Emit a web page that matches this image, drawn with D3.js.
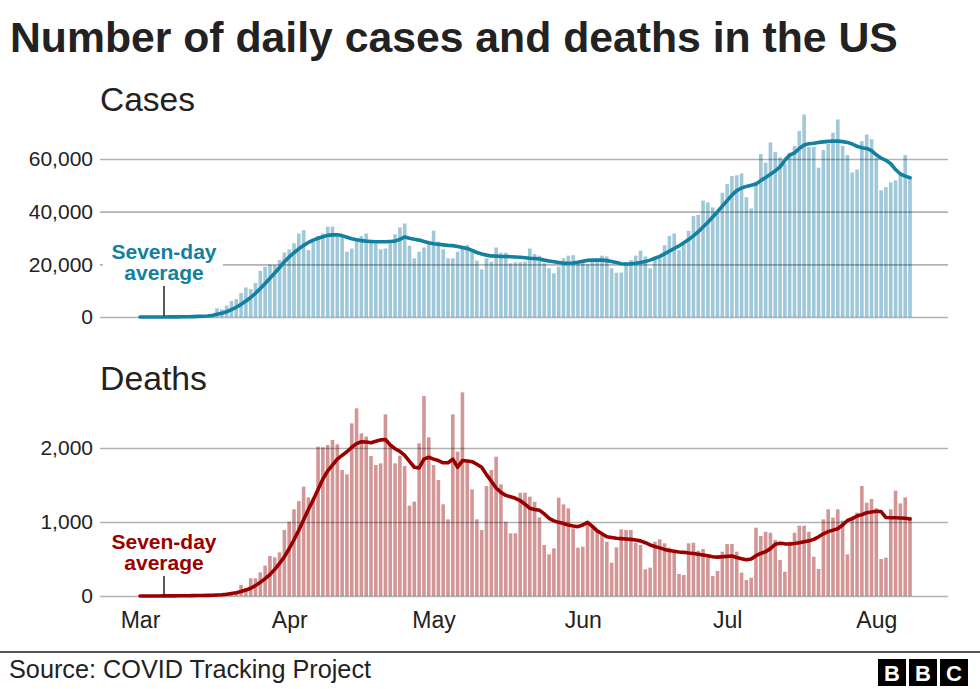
<!DOCTYPE html>
<html>
<head>
<meta charset="utf-8">
<script src="https://cdn.jsdelivr.net/npm/d3@7"></script>
<style>
  html, body { margin: 0; padding: 0; background: #fff; }
  svg { display: block; }
  text { font-family: "Liberation Sans", Arial, Helvetica, sans-serif; }
</style>
</head>
<body>
<svg id="chart" width="980" height="689"></svg>
<script>
// ---------------- DATA ----------------
const startDate = "2020-03-01";           // first day shown (Mar 1)
const monthTicks = ["Mar", "Apr", "May", "Jun", "Jul", "Aug"];
const caseTicks = [0, 20000, 40000, 60000];
const deathTicks = [0, 1000, 2000];

// Daily new cases, Mar 1 – Aug 8
const dailyCases = [
  2, 7, 15, 25, 40, 60, 80, 110, 140, 180,
  250, 350, 450, 600, 750, 1100, 3300, 2900, 4300, 6100,
  6800, 9100, 11200, 10600, 12900, 17500, 19100, 19900, 19700, 21600,
  24500, 25700, 28000, 31700, 33000, 25400, 28600, 30700, 31700, 34300,
  34300, 30500, 30700, 24800, 26000, 29900, 30700, 31700, 28600, 28000,
  25700, 26000, 28000, 31400, 34000, 35500, 27100, 22300, 24800, 26400,
  28000, 32800, 28600, 25700, 22300, 22300, 24800, 26400, 27300, 25700,
  21400, 18100, 22300, 21000, 26400, 24400, 24400, 20400, 20800, 20800,
  21000, 26000, 23900, 23300, 20400, 18500, 16600, 19100, 22300, 23300,
  23500, 21000, 21000, 20000, 21000, 21600, 23300, 23000, 18500, 16800,
  16900, 20800, 21600, 23300, 25200, 23000, 18500, 22900, 23500, 27300,
  30800, 31700, 25400, 28000, 32700, 38300, 38800, 44200, 43500, 41600,
  40000, 47200, 50500, 53500, 53800, 54500, 45500, 41200, 51400, 61900,
  58600, 66300, 62700, 60600, 58300, 62400, 65000, 70600, 76900, 64600,
  64600, 56700, 63400, 65700, 70000, 75000, 65000, 61500, 54900, 56000,
  66800, 69300, 67500, 60500, 48100, 49300, 51100, 51900, 53900, 61500,
  53300
];

// Seven-day average of cases
const avgCases = [
  2, 4, 7, 11, 17, 25, 35, 50, 65, 85,
  115, 160, 220, 300, 400, 560, 1000, 1400, 2000, 2800,
  3700, 4800, 6100, 7400, 9000, 10800, 12700, 14700, 16700, 18800,
  21000, 22800, 24400, 25900, 27200, 28300, 29200, 29900, 30500, 31000,
  31200, 31200, 30900, 30300, 29700, 29300, 29000, 28800, 28700, 28600,
  28600, 28600, 28700, 28800, 29500, 30400, 29900, 29500, 29200, 28700,
  28200, 27800, 27600, 27400, 27200, 27100, 26800, 26400, 26000, 25300,
  24500, 23900, 23500, 23200, 23100, 23000, 23000, 22900, 22800, 22700,
  22500, 22300, 22200, 22000, 21600, 21300, 21000, 20700, 20400, 20400,
  20500, 20800, 21200, 21500, 21600, 21600, 21600, 21400, 21100, 20700,
  20200, 20100, 20200, 20400, 20700, 21100, 21600, 22300, 23000, 24000,
  25000, 26000, 27000, 28200, 29400, 30800, 32400, 34200, 36000, 38000,
  40000, 42100, 44200, 46300, 48000, 49000, 49600, 50000, 50500, 51800,
  53000, 54200, 55500, 57000, 59500, 61500, 62300, 64000, 65300, 65800,
  66000, 66300, 66500, 66700, 66800, 66800, 66600, 66300, 65700, 64800,
  64300, 64000, 63200, 61600, 60300, 59500, 58200, 56000, 54300, 53500,
  52900
];

// Daily deaths, Mar 1 – Aug 8
const dailyDeaths = [
  0, 1, 1, 2, 2, 3, 3, 2, 5, 4,
  6, 8, 7, 10, 10, 14, 18, 24, 34, 50,
  65, 149, 110, 239, 239, 320, 410, 540, 523, 590,
  892, 1004, 1171, 1283, 1477, 1333, 1320, 2018, 2010, 2040,
  2108, 2049, 1702, 1644, 2333, 2536, 2198, 2153, 1891, 1770,
  1792, 2455, 2040, 1792, 1896, 1756, 1220, 1274, 2063, 2702,
  2144, 1770, 1567, 1239, 1036, 2455, 1950, 2752, 1837, 1441,
  1036, 892, 1486, 1702, 1882, 1509, 1004, 847, 847, 1396,
  1396, 1342, 1274, 1063, 689, 563, 644, 1328, 1238, 1185,
  914, 653, 666, 1004, 946, 869, 824, 734, 450, 658,
  901, 892, 892, 720, 689, 360, 383, 734, 766, 712,
  653, 585, 297, 284, 712, 720, 612, 635, 531, 270,
  338, 599, 703, 703, 599, 315, 216, 247, 923, 811,
  869, 855, 757, 486, 328, 734, 855, 950, 950, 869,
  531, 365, 1036, 1171, 1058, 1171, 1018, 563, 1072, 1126,
  1486, 1261, 1310, 1185, 500, 518, 1171, 1423, 1252, 1333,
  1072
];

// Seven-day average of deaths
const avgDeaths = [
  0, 0, 1, 1, 1, 2, 2, 2, 3, 3,
  4, 5, 6, 7, 8, 10, 13, 17, 24, 35,
  45, 60, 80, 105, 140, 185, 235, 290, 360, 440,
  530, 640, 760, 890, 1030, 1170, 1300, 1440, 1580, 1690,
  1770, 1850, 1900, 1950, 2010, 2060, 2085, 2080, 2070, 2090,
  2110, 2115, 2040, 1990, 1955, 1900, 1820, 1740, 1730, 1850,
  1875, 1850, 1830, 1800, 1800, 1850, 1740, 1830, 1825, 1815,
  1780, 1740, 1640, 1550, 1460, 1400, 1360, 1340, 1320, 1290,
  1240, 1185, 1170, 1160, 1110, 1050, 1015, 995, 980, 960,
  945, 937, 960, 995, 940, 880, 840, 800, 790, 780,
  775, 770, 765, 757, 745, 720, 690, 670, 650, 630,
  615, 605, 595, 590, 580, 575, 565, 555, 545, 530,
  525, 530, 535, 540, 520, 505, 490, 500, 545, 575,
  600, 640, 700, 712, 705, 703, 710, 720, 734, 745,
  765, 800, 840, 870, 890, 910, 960, 1020, 1045, 1080,
  1100, 1125, 1135, 1145, 1140, 1060, 1058, 1058, 1055, 1050,
  1040
];

// ---------------- DRAWING ----------------
const W = 980, H = 689;
const svg = d3.select("#chart");
svg.append("rect").attr("width", W).attr("height", H).attr("fill", "#fff");

const parse = d3.utcParse("%Y-%m-%d");
const d0 = parse(startDate);
const dates = dailyCases.map((_, i) => d3.utcDay.offset(d0, i));

const x = d3.scaleUtc().domain([dates[0], dates[dates.length - 1]]).range([140, 910]);
const barW = 3.6;
const gridX0 = 100, gridX1 = 948;

const COL = {
  casesBar: "#9fc8d9", casesLine: "#1380a1",
  deathsBar: "#d39696", deathsLine: "#990000",
  text: "#222222", grid: "rgba(0,0,0,0.30)"
};

function fitText(sel, targetWidth) {
  const node = sel.node();
  const fs = parseFloat(sel.attr("font-size"));
  const w = node.getComputedTextLength();
  sel.attr("font-size", (fs * targetWidth / w).toFixed(2));
}

// Title
const title = svg.append("text")
  .attr("x", 10).attr("y", 52)
  .attr("font-size", 37).attr("font-weight", "bold")
  .attr("fill", COL.text)
  .text("Number of daily cases and deaths in the US");
fitText(title, 888);

function panel(cfg) {
  const y = d3.scaleLinear().domain(cfg.domain).range(cfg.range);
  const g = svg.append("g");

  // panel label
  const lab = g.append("text")
    .attr("x", 100).attr("y", cfg.labelY)
    .attr("font-size", 31).attr("fill", COL.text)
    .text(cfg.label);
  fitText(lab, cfg.labelW);

  // bars
  g.append("g").selectAll("rect")
    .data(cfg.daily)
    .join("rect")
    .attr("x", (d, i) => x(dates[i]) - barW / 2)
    .attr("width", barW)
    .attr("y", d => y(d))
    .attr("height", d => y(0) - y(d))
    .attr("fill", cfg.barColor);

  // gridlines + tick labels (drawn over bars)
  const axis = d3.axisLeft(y)
    .tickValues(cfg.ticks)
    .tickSize(-(gridX1 - gridX0))
    .tickPadding(7)
    .tickFormat(d3.format(","));
  const ag = g.append("g").attr("transform", `translate(${gridX0},0)`).call(axis);
  ag.select(".domain").remove();
  ag.selectAll(".tick line").attr("stroke", COL.grid).attr("stroke-width", 1.6);
  ag.selectAll(".tick text")
    .attr("font-size", 21)
    .attr("font-family", "'Liberation Sans', Arial, sans-serif")
    .attr("fill", COL.text);

  // annotation background (cuts gridline)
  if (cfg.annBg) {
    g.append("rect")
      .attr("x", 103).attr("y", cfg.annY1 - 21)
      .attr("width", 120).attr("height", 46)
      .attr("fill", "#fff");
  }

  // seven-day average line
  const line = d3.line()
    .x((d, i) => x(dates[i]))
    .y(d => y(d));
  g.append("path")
    .datum(cfg.avg)
    .attr("d", line)
    .attr("fill", "none")
    .attr("stroke", cfg.lineColor)
    .attr("stroke-width", 3.6)
    .attr("stroke-linejoin", "round")
    .attr("stroke-linecap", "round");

  // annotation
  const ann = g.append("g").attr("fill", cfg.lineColor)
    .attr("font-weight", "bold").attr("text-anchor", "middle");
  const t1 = ann.append("text").attr("x", 164).attr("y", cfg.annY1)
    .attr("font-size", 21).text("Seven-day");
  ann.append("text").attr("x", 164).attr("y", cfg.annY1 + 21)
    .attr("font-size", t1.attr("font-size")).text("average");
  g.append("line")
    .attr("x1", 164).attr("x2", 164)
    .attr("y1", cfg.annY1 + 27).attr("y2", y(0) - 1)
    .attr("stroke", "#222").attr("stroke-width", 1.5);
  return y;
}

panel({
  label: "Cases", labelY: 111, labelW: 95,
  daily: dailyCases, avg: avgCases,
  domain: [0, 60000], range: [317, 159], ticks: caseTicks,
  barColor: COL.casesBar, lineColor: COL.casesLine,
  annY1: 259, annBg: true
});

const yD = panel({
  label: "Deaths", labelY: 390, labelW: 107,
  daily: dailyDeaths, avg: avgDeaths,
  domain: [0, 2000], range: [596, 448], ticks: deathTicks,
  barColor: COL.deathsBar, lineColor: COL.deathsLine,
  annY1: 549, annBg: false
});

// x axis month labels
const monthDates = d3.utcMonth.range(d3.utcMonth.ceil(dates[0]), dates[dates.length - 1]);
const xAxis = d3.axisBottom(x)
  .tickValues(monthDates)
  .tickSize(0)
  .tickFormat((d, i) => monthTicks[i]);
const xg = svg.append("g").attr("transform", `translate(0,${yD(0)})`).call(xAxis);
xg.select(".domain").remove();
xg.selectAll(".tick text")
  .attr("y", 32).attr("dy", 0)
  .attr("font-size", 23)
  .attr("font-family", "'Liberation Sans', Arial, sans-serif")
  .attr("fill", COL.text);

// footer
svg.append("line").attr("x1", 0).attr("x2", W).attr("y1", 652).attr("y2", 652)
  .attr("stroke", "#555").attr("stroke-width", 2);
const src = svg.append("text").attr("x", 9).attr("y", 678)
  .attr("font-size", 22).attr("fill", COL.text)
  .text("Source: COVID Tracking Project");
fitText(src, 362);

const logo = svg.append("g");
["B", "B", "C"].forEach((ch, k) => {
  const bx = 878 + k * 31;
  logo.append("rect").attr("x", bx).attr("y", 659).attr("width", 28).attr("height", 27).attr("fill", "#000");
  logo.append("text").attr("x", bx + 14).attr("y", 681).attr("text-anchor", "middle")
    .attr("font-size", 22).attr("font-weight", "bold").attr("fill", "#fff").text(ch);
});
</script>
</body>
</html>
